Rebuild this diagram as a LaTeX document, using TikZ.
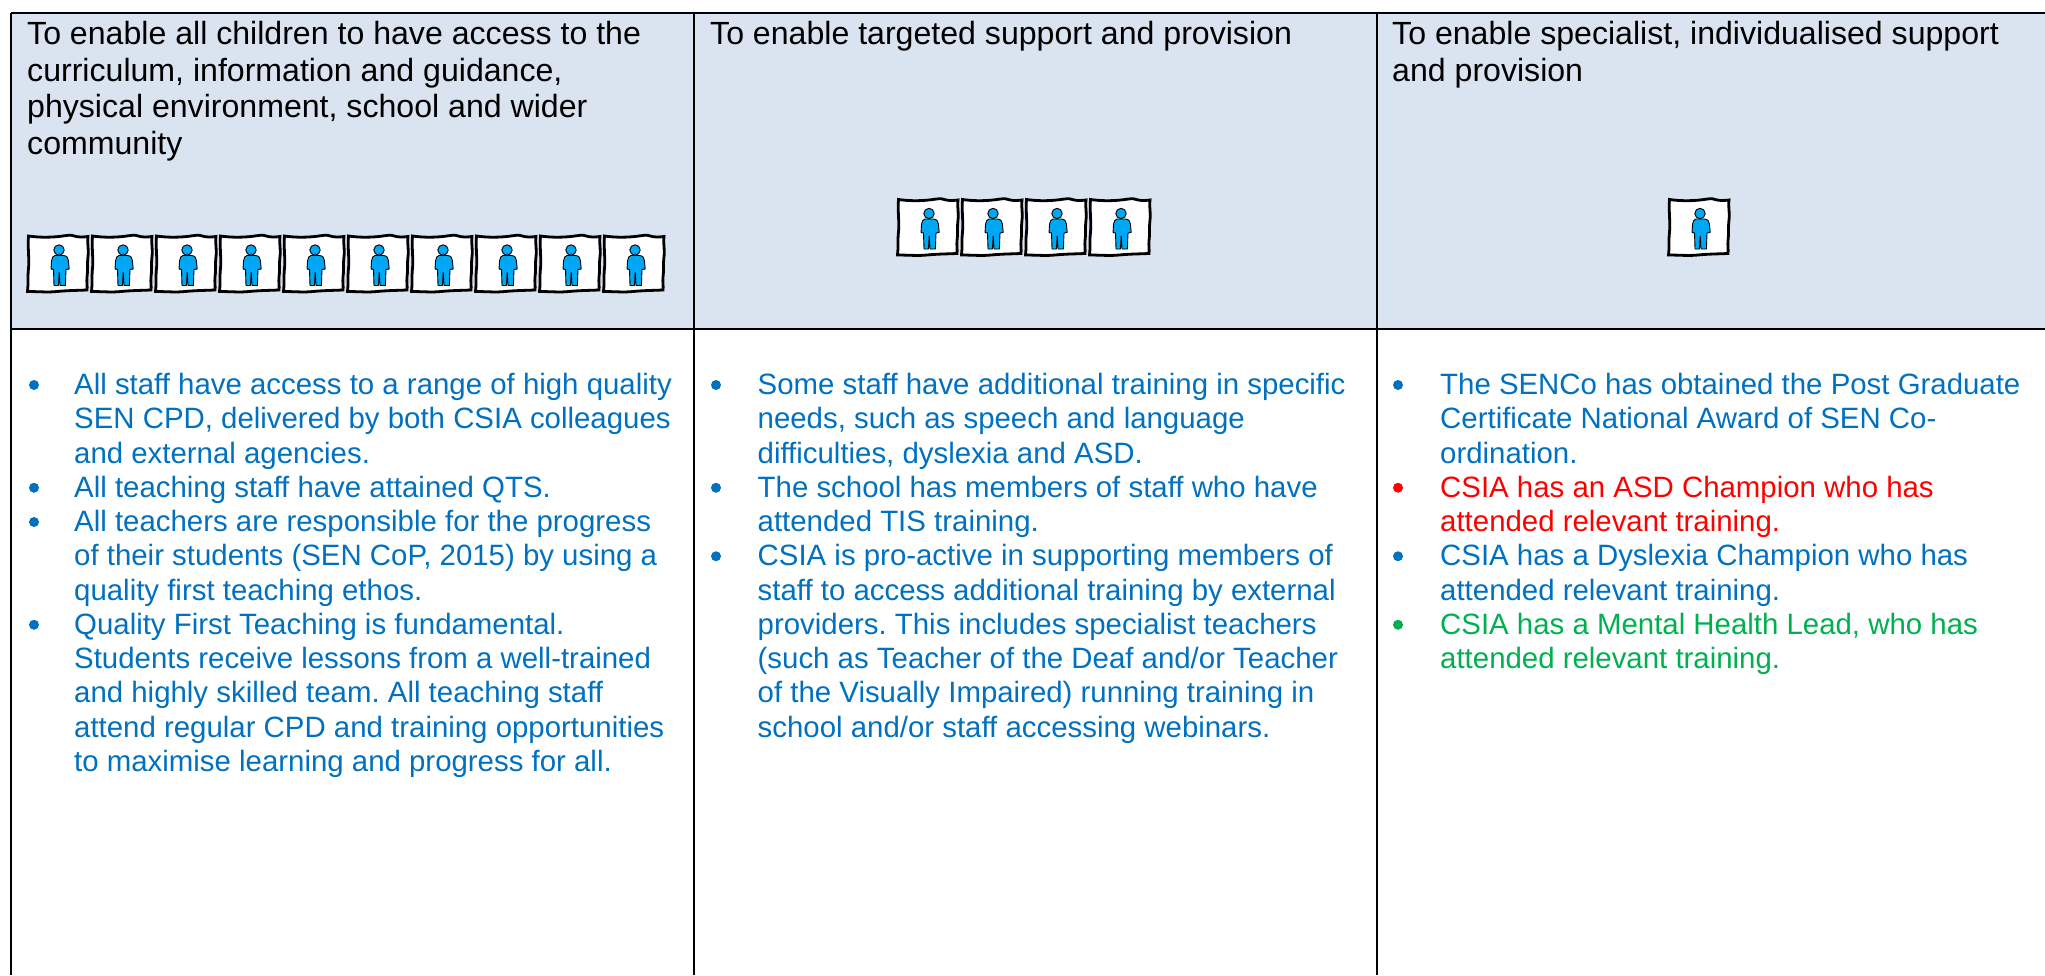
\documentclass[tikz,border=0pt]{standalone}
\usepackage{fontspec}
\setmainfont{Liberation Sans}
\definecolor{headfill}{HTML}{DAE3F0}
\definecolor{bodyblue}{HTML}{0070C0}
\definecolor{bodyred}{HTML}{FF0000}
\definecolor{bodygreen}{HTML}{00B050}
\definecolor{personblue}{HTML}{00A8F4}
\tikzset{
  gridline/.style={line width=2pt,black},
  headtext/.style={anchor=north west,inner sep=0pt,align=left,text=black,font=\fontsize{32.1}{36.5}\selectfont},
  bodytext/.style={anchor=north west,inner sep=0pt,align=left,font=\fontsize{29.4}{34.25}\selectfont},
  bulletdot/.style={circle,inner sep=0pt,minimum size=10pt},
  pics/personicon/.style={code={
    \draw[line width=2.8pt,fill=white,line join=miter]
      (1.5,1.5) .. controls (12,3) and (22,3) .. (32,2) .. controls (40,1) and (44,0) .. (47,1.5) .. controls (52,3) and (57,2.5) .. (61,2)
      .. controls (60,10) and (62,14) .. (61,22) .. controls (60,30) and (61,36) .. (60,43) .. controls (59.5,47) and (60.5,52) .. (60,55.5)
      .. controls (48,56) and (40,56) .. (30,57) .. controls (20,58) and (12,57) .. (0.5,57)
      .. controls (1.5,50) and (0.5,42) .. (1.5,34) .. controls (2.5,25) and (0.5,12) .. (1.5,1.5) -- cycle;
    \draw[line width=0.9pt,fill=personblue] (32,15.5) circle (5.2);
    \draw[line width=0.9pt,fill=personblue,line join=round] (28,21) -- (36.5,21) .. controls (40,21.5) and (41,23) .. (41.4,26) -- (42.2,34.5) -- (39,35) -- (38.4,51) -- (33,51) -- (32.2,38) -- (31.4,51) -- (27,51) -- (26.5,35) -- (24,34.5) -- (24.6,26) .. controls (25,23) and (26,21.5) .. (28,21) -- cycle;
  }}
}
\newcommand{\bodyitem}[6]{% name, dotx, textx, line index, colour, text
  \pgfmathsetmacro{\liney}{370.5+34.25*#4}
  \pgfmathsetmacro{\doty}{\liney+14.5}
  \node[bulletdot,fill=#5] (#1dot) at (#2,\doty) {};
  \node[bodytext,text=#5] (#1) at (#3,\liney) {\rule{0pt}{24pt}#6};
}
\begin{document}
\frenchspacing
\begin{tikzpicture}[x=1pt,y=-1pt]
\useasboundingbox (0,0) rectangle (2045,975);
\fill[headfill] (11,13) rectangle (2045,329);
\coordinate (tl) at (11,13);
\coordinate (tr) at (2045,13);
\coordinate (ml) at (11,329);
\coordinate (mr) at (2045,329);
\coordinate (bl) at (11,975);
\coordinate (t2) at (694,13);
\coordinate (b2) at (694,975);
\coordinate (t3) at (1377,13);
\coordinate (b3) at (1377,975);
\draw[gridline] (tl) -- (tr);
\draw[gridline] (ml) -- (mr);
\draw[gridline] (tl) -- (bl);
\draw[gridline] (t2) -- (b2);
\draw[gridline] (t3) -- (b3);

\node[headtext] (h1) at (27,20.5) {\rule{0pt}{24pt}To enable all children to have access to the\\curriculum, information and guidance,\\physical environment, school and wider\\community};
\node[headtext] (h2) at (710,20.5) {\rule{0pt}{24pt}To enable targeted support and provision};
\node[headtext] (h3) at (1392,20.5) {\rule{0pt}{24pt}To enable specialist, individualised support\\and provision};

\foreach \i in {0,...,9} { \pic at ({27+64*\i},234.5) {personicon}; }
\foreach \i in {0,...,3} { \pic at ({897+64*\i},198) {personicon}; }
\pic at (1668,198) {personicon};

\bodyitem{a1}{34}{74}{0}{bodyblue}{All staff have access to a range of high quality\\SEN CPD, delivered by both CSIA colleagues\\and external agencies.}
\bodyitem{a2}{34}{74}{3}{bodyblue}{All teaching staff have attained QTS.}
\bodyitem{a3}{34}{74}{4}{bodyblue}{All teachers are responsible for the progress\\of their students (SEN CoP, 2015) by using a\\quality first teaching ethos.}
\bodyitem{a4}{34}{74}{7}{bodyblue}{Quality First Teaching is fundamental.\\Students receive lessons from a well-trained\\and highly skilled team. All teaching staff\\attend regular CPD and training opportunities\\to maximise learning and progress for all.}

\bodyitem{b1}{716}{757.5}{0}{bodyblue}{Some staff have additional training in specific\\needs, such as speech and language\\difficulties, dyslexia and ASD.}
\bodyitem{b2}{716}{757.5}{3}{bodyblue}{The school has members of staff who have\\attended TIS training.}
\bodyitem{b3}{716}{757.5}{5}{bodyblue}{CSIA is pro-active in supporting members of\\staff to access additional training by external\\providers. This includes specialist teachers\\(such as Teacher of the Deaf and/or Teacher\\of the Visually Impaired) running training in\\school and/or staff accessing webinars.}

\bodyitem{c1}{1398}{1440}{0}{bodyblue}{The SENCo has obtained the Post Graduate\\Certificate National Award of SEN Co-\\ordination.}
\bodyitem{c2}{1398}{1440}{3}{bodyred}{CSIA has an ASD Champion who has\\attended relevant training.}
\bodyitem{c3}{1398}{1440}{5}{bodyblue}{CSIA has a Dyslexia Champion who has\\attended relevant training.}
\bodyitem{c4}{1398}{1440}{7}{bodygreen}{CSIA has a Mental Health Lead, who has\\attended relevant training.}
\end{tikzpicture}
\end{document}
